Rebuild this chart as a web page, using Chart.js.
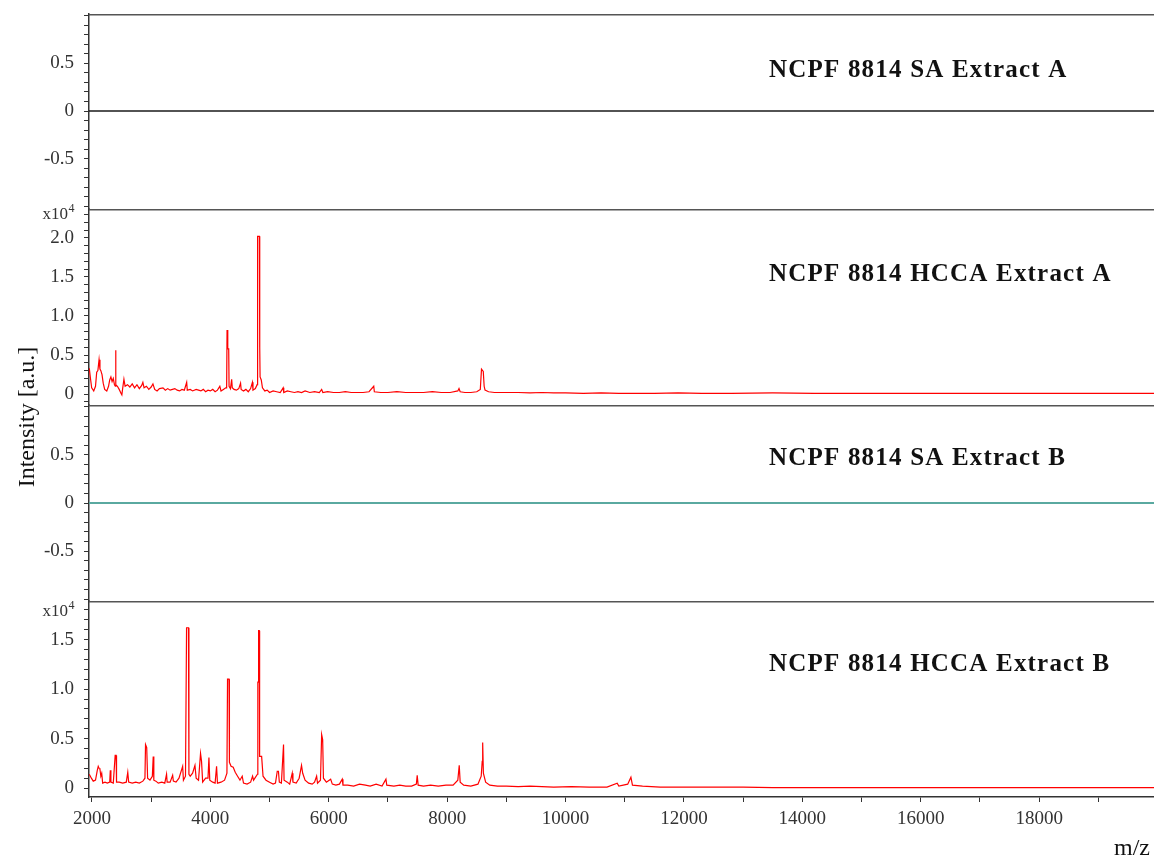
<!DOCTYPE html>
<html lang="en">
<head>
    <meta charset="UTF-8">
    <title>NCPF 8814 spectra</title>
    <script src="https://cdn.jsdelivr.net/npm/chart.js"></script>
    <style>
        body { margin: 0; background: #fff; }
        .janela { position: relative; width: 1154px; height: 861px; overflow: hidden; }
        .janela canvas { position: absolute; left: 0; }
        .ytitulo {
            position: absolute; left: -52px; top: 402px; width: 160px; height: 30px;
            line-height: 30px; text-align: center; transform: rotate(-90deg);
            font: 24px "Liberation Serif", serif; color: #111; white-space: nowrap;
        }
    </style>
</head>
<body>
<div class="janela">
    <canvas id="painel1" width="1154" height="207" style="top: 2px"></canvas>
    <canvas id="painel2" width="1154" height="208" style="top: 197px"></canvas>
    <canvas id="painel3" width="1154" height="208" style="top: 393px"></canvas>
    <canvas id="painel4" width="1154" height="272" style="top: 589px"></canvas>
    <div class="ytitulo">Intensity [a.u.]</div>
</div>

<script>
// ---- data (intensities in units of x10^4 for the HCCA spectra) ----
const panelTitles = ['NCPF 8814 SA Extract A', 'NCPF 8814 HCCA Extract A',
                     'NCPF 8814 SA Extract B', 'NCPF 8814 HCCA Extract B'];

const xTicks = [2000, 3000, 4000, 5000, 6000, 7000, 8000, 9000, 10000, 11000,
                12000, 13000, 14000, 15000, 16000, 17000, 18000, 19000];
const xLabels = [2000, 4000, 6000, 8000, 10000, 12000, 14000, 16000, 18000];
const yLabelsSa = [-0.5, 0, 0.5];
const yLabelsHccaA = [0, 0.5, 1.0, 1.5, 2.0];
const yLabelsHccaB = [0, 0.5, 1.0, 1.5];

// SA spectra are flat (no signal)
const mzSaA = [1950, 19940];
const intSaA = [0, 0];
const mzSaB = [1950, 19940];
const intSaB = [0, 0];

const mzHccaA = [
    1955, 1975, 1995, 2030, 2060, 2080, 2100, 2120, 2135, 2150,
    2170, 2190, 2215, 2250, 2280, 2300, 2320, 2340, 2360, 2380,
    2395, 2400, 2405, 2430, 2460, 2490, 2505, 2520, 2540, 2560,
    2600, 2640, 2680, 2720, 2760, 2800, 2840, 2860, 2880, 2920,
    2960, 3000, 3030, 3060, 3100, 3140, 3200, 3240, 3280, 3320,
    3360, 3400, 3440, 3480, 3520, 3560, 3600, 3610, 3660, 3700,
    3760, 3800, 3840, 3880, 3920, 3960, 4000, 4040, 4080, 4120,
    4160, 4180, 4220, 4260, 4275, 4282, 4292, 4296, 4310, 4316,
    4340, 4360, 4370, 4400, 4440, 4480, 4510, 4520, 4560, 4600,
    4640, 4680, 4710, 4720, 4760, 4790, 4798, 4828, 4834, 4840,
    4860, 4880, 4920, 4960, 5000, 5060, 5120, 5180, 5230, 5240,
    5300, 5360, 5420, 5480, 5540, 5600, 5680, 5760, 5840, 5880,
    5900, 5980, 6080, 6180, 6280, 6380, 6480, 6580, 6680, 6760,
    6770, 6880, 7000, 7150, 7300, 7450, 7600, 7750, 7900, 8050,
    8180, 8200, 8220, 8300, 8400, 8500, 8560, 8580, 8610, 8625,
    8640, 8700, 8800, 9000, 9200, 9400, 9600, 9800, 10000, 10300,
    10600, 10900, 11200, 11500, 11900, 12300, 12800, 13500, 14200, 15000,
    16000, 17000, 18000, 19000, 19940
];
const intHccaA = [
    0.33, 0.20, 0.08, 0.04, 0.10, 0.28, 0.30, 0.44, 0.32, 0.30,
    0.25, 0.14, 0.06, 0.04, 0.10, 0.18, 0.22, 0.16, 0.20, 0.12,
    0.10, 0.56, 0.12, 0.10, 0.06, 0.01, -0.01, 0.08, 0.19, 0.10,
    0.12, 0.09, 0.13, 0.08, 0.12, 0.07, 0.11, 0.15, 0.08, 0.10,
    0.06, 0.09, 0.13, 0.06, 0.04, 0.07, 0.08, 0.05, 0.07, 0.05,
    0.06, 0.07, 0.05, 0.04, 0.06, 0.05, 0.15, 0.05, 0.06, 0.04,
    0.06, 0.05, 0.04, 0.06, 0.03, 0.05, 0.04, 0.06, 0.03, 0.05,
    0.10, 0.04, 0.06, 0.08, 0.08, 0.82, 0.82, 0.58, 0.58, 0.10,
    0.07, 0.19, 0.08, 0.06, 0.05, 0.07, 0.14, 0.06, 0.04, 0.06,
    0.03, 0.07, 0.15, 0.05, 0.07, 0.12, 2.02, 2.02, 0.60, 0.22,
    0.18, 0.08, 0.04, 0.05, 0.02, 0.04, 0.03, 0.02, 0.08, 0.02,
    0.04, 0.03, 0.02, 0.03, 0.02, 0.04, 0.02, 0.03, 0.02, 0.06,
    0.02, 0.03, 0.02, 0.02, 0.03, 0.02, 0.02, 0.02, 0.03, 0.10,
    0.03, 0.02, 0.02, 0.03, 0.02, 0.02, 0.02, 0.03, 0.02, 0.02,
    0.04, 0.07, 0.03, 0.02, 0.02, 0.03, 0.06, 0.32, 0.29, 0.10,
    0.05, 0.03, 0.02, 0.02, 0.02, 0.015, 0.02, 0.015, 0.015, 0.01,
    0.015, 0.01, 0.01, 0.01, 0.015, 0.01, 0.01, 0.015, 0.01, 0.01,
    0.01, 0.01, 0.01, 0.01, 0.01
];

const mzHccaB = [
    1955, 1990, 2022, 2060, 2090, 2106, 2120, 2135, 2150, 2165,
    2181, 2220, 2260, 2300, 2310, 2320, 2360, 2392, 2408, 2415,
    2460, 2520, 2580, 2605, 2620, 2680, 2740, 2800, 2860, 2895,
    2905, 2925, 2940, 2980, 3020, 3035, 3045, 3080, 3120, 3180,
    3230, 3260, 3270, 3320, 3363, 3375, 3420, 3470, 3532, 3545,
    3580, 3598, 3630, 3638, 3660, 3700, 3740, 3760, 3800, 3834,
    3851, 3870, 3920, 3960, 3976, 3990, 4040, 4080, 4105, 4120,
    4180, 4240, 4280, 4290, 4315, 4322, 4350, 4386, 4420, 4460,
    4500, 4538, 4560, 4620, 4680, 4713, 4730, 4795, 4802, 4812,
    4815, 4826, 4832, 4866, 4890, 4940, 5000, 5060, 5100, 5130,
    5150, 5165, 5200, 5236, 5245, 5300, 5340, 5383, 5395, 5450,
    5500, 5540, 5560, 5600, 5660, 5720, 5760, 5795, 5810, 5860,
    5880, 5897, 5910, 5960, 6032, 6060, 6120, 6180, 6228, 6240,
    6320, 6420, 6520, 6620, 6700, 6800, 6900, 6966, 6980, 7100,
    7200, 7300, 7400, 7480, 7494, 7510, 7600, 7720, 7850, 7980,
    8100, 8180, 8204, 8220, 8280, 8400, 8520, 8575, 8592, 8600,
    8612, 8650, 8720, 8850, 9000, 9200, 9400, 9600, 9800, 10100,
    10400, 10700, 10872, 10900, 11050, 11104, 11130, 11300, 11600, 12000,
    12500, 13000, 13500, 14500, 15500, 16500, 17500, 18500, 19940
];
const intHccaB = [
    0.14, 0.10, 0.07, 0.08, 0.18, 0.22, 0.20, 0.19, 0.12, 0.15,
    0.05, 0.06, 0.05, 0.06, 0.18, 0.06, 0.05, 0.33, 0.33, 0.06,
    0.06, 0.05, 0.06, 0.16, 0.06, 0.05, 0.06, 0.05, 0.07, 0.10,
    0.44, 0.41, 0.10, 0.08, 0.12, 0.32, 0.08, 0.07, 0.05, 0.06,
    0.05, 0.14, 0.06, 0.06, 0.13, 0.07, 0.06, 0.10, 0.22, 0.08,
    0.12, 1.62, 1.62, 0.14, 0.12, 0.15, 0.23, 0.10, 0.08, 0.35,
    0.27, 0.06, 0.10, 0.10, 0.31, 0.08, 0.06, 0.05, 0.22, 0.05,
    0.06, 0.08, 0.15, 1.10, 1.10, 0.26, 0.22, 0.21, 0.16, 0.12,
    0.08, 0.12, 0.05, 0.04, 0.06, 0.12, 0.08, 0.14, 1.07, 1.07,
    1.59, 1.59, 0.32, 0.32, 0.12, 0.08, 0.06, 0.04, 0.05, 0.17,
    0.17, 0.06, 0.05, 0.44, 0.08, 0.06, 0.04, 0.15, 0.06, 0.05,
    0.10, 0.23, 0.15, 0.08, 0.05, 0.04, 0.06, 0.12, 0.05, 0.08,
    0.54, 0.49, 0.10, 0.06, 0.09, 0.04, 0.03, 0.04, 0.09, 0.03,
    0.03, 0.02, 0.04, 0.03, 0.02, 0.04, 0.02, 0.09, 0.03, 0.02,
    0.03, 0.02, 0.02, 0.04, 0.13, 0.03, 0.02, 0.03, 0.02, 0.03,
    0.03, 0.08, 0.23, 0.06, 0.03, 0.02, 0.04, 0.12, 0.27, 0.46,
    0.15, 0.06, 0.03, 0.02, 0.02, 0.015, 0.02, 0.015, 0.01, 0.015,
    0.01, 0.01, 0.05, 0.02, 0.04, 0.11, 0.03, 0.02, 0.01, 0.01,
    0.01, 0.01, 0.005, 0.005, 0.005, 0.005, 0.005, 0.005, 0.005
];

// ---- helpers ----
function pontos(mz, intensidade) {
    let lista = [];
    for (let i = 0; i < mz.length; i++) {
        lista.push({ x: mz[i], y: intensidade[i] });
    }
    return lista;
}

function ehPasso(v, passo) {
    let n = v / passo;
    return Math.abs(n - Math.round(n)) < 1e-6;
}

function formatar(v) {
    return Math.abs(v) < 1e-9 ? '0' : v.toFixed(1);
}

const serif = '"Liberation Serif", "Times New Roman", serif';

// draws panel frame line + texts (title, x10^4, m/z)
const painelPlugin = {
    id: 'painel',
    afterDraw(chart, args, opts) {
        const ctx = chart.ctx;
        const area = chart.chartArea;
        ctx.save();
        // top line of the panel
        ctx.strokeStyle = '#555';
        ctx.lineWidth = 1.5;
        ctx.beginPath();
        ctx.moveTo(area.left, area.top + 0.75);
        ctx.lineTo(chart.width, area.top + 0.75);
        ctx.stroke();

        ctx.fillStyle = '#111';
        ctx.textBaseline = 'alphabetic';
        ctx.textAlign = 'left';
        ctx.font = 'bold 25px ' + serif;
        ctx.letterSpacing = '1.2px';
        ctx.fillText(opts.titulo, 769, opts.tituloY);
        ctx.letterSpacing = '0px';

        if (opts.escalaY !== undefined) {
            ctx.fillStyle = '#333';
            ctx.font = '12px ' + serif;
            const w4 = ctx.measureText('4').width;
            ctx.font = '17px ' + serif;
            const w10 = ctx.measureText('x10').width;
            const xIni = 74 - w4 - w10;
            ctx.fillText('x10', xIni, opts.escalaY);
            ctx.font = '12px ' + serif;
            ctx.fillText('4', xIni + w10 + 0.5, opts.escalaY - 7);
        }

        if (opts.mzY !== undefined) {
            ctx.fillStyle = '#111';
            ctx.font = '24px ' + serif;
            ctx.textAlign = 'right';
            ctx.fillText('m/z', 1150, opts.mzY);
        }
        ctx.restore();
    }
};

function criarPainel(id, mz, intensidade, cor, largura, yMin, yMax, yLabels, cfg) {
    const mostrarX = cfg.mostrarX === true;

    const config = {
        type: 'line',
        data: {
            datasets: [{
                data: pontos(mz, intensidade),
                borderColor: cor,
                borderWidth: largura,
                pointRadius: 0,
                tension: 0,
                fill: false
            }]
        },
        options: {
            responsive: false,
            animation: false,
            devicePixelRatio: 1,
            parsing: false,
            events: [],
            layout: { padding: { top: 12, right: 0, bottom: 0, left: 0 } },
            plugins: {
                legend: { display: false },
                tooltip: { enabled: false },
                painel: cfg
            },
            scales: {
                x: {
                    type: 'linear',
                    display: mostrarX,
                    min: 1950,
                    max: 19940,
                    grid: {
                        drawOnChartArea: false,
                        drawTicks: true,
                        tickLength: 5,
                        tickColor: '#333'
                    },
                    border: { display: true, color: '#333', width: 1.5 },
                    ticks: {
                        autoSkip: false,
                        maxRotation: 0,
                        padding: 6,
                        color: '#333',
                        font: { family: serif, size: 19 },
                        callback: (v) => xLabels.includes(v) ? String(v) : ''
                    },
                    // minor ticks every 1000, labels every 2000
                    afterBuildTicks: (s) => { s.ticks = xTicks.map(v => ({ value: v })); },
                    afterFit: (s) => {
                        if (mostrarX) { s.height = 64; }
                        s.paddingLeft = 0;
                        s.paddingRight = 0;
                    }
                },
                y: {
                    type: 'linear',
                    min: yMin,
                    max: yMax,
                    grid: {
                        drawOnChartArea: false,
                        drawTicks: true,
                        tickLength: 5,
                        tickColor: (c) => (c.tick && ehPasso(c.tick.value, 0.1)) ? '#333' : 'rgba(0,0,0,0)'
                    },
                    border: { display: true, color: '#333', width: 1.5 },
                    ticks: {
                        stepSize: 0.1,
                        includeBounds: false,
                        autoSkip: false,
                        maxTicksLimit: 1000,
                        padding: 10,
                        color: '#333',
                        font: { family: serif, size: 19 },
                        callback: (v) => yLabels.some(l => Math.abs(l - v) < 1e-6) ? formatar(v) : ''
                    },
                    afterFit: (s) => { s.width = 89; s.paddingTop = 0; s.paddingBottom = 0; }
                }
            }
        },
        plugins: [painelPlugin]
    };

    return new Chart(document.getElementById(id), config);
}

// canvas tops: 2, 197, 393, 589 (texts are placed relative to those)
criarPainel('painel1', mzSaA, intSaA, '#1a1a1a', 1.5, -1.03, 1.02, yLabelsSa,
    { titulo: panelTitles[0], tituloY: 75 });
criarPainel('painel2', mzHccaA, intHccaA, '#ff0000', 1.2, -0.14, 2.37, yLabelsHccaA,
    { titulo: panelTitles[1], tituloY: 84, escalaY: 22 });
criarPainel('painel3', mzSaB, intSaB, '#5aa9a0', 2, -1.02, 1.02, yLabelsSa,
    { titulo: panelTitles[2], tituloY: 72 });
criarPainel('painel4', mzHccaB, intHccaB, '#ff0000', 1.2, -0.09, 1.89, yLabelsHccaB,
    { titulo: panelTitles[3], tituloY: 82, escalaY: 27, mzY: 266, mostrarX: true });

console.log('paineis prontos');
</script>
</body>
</html>
